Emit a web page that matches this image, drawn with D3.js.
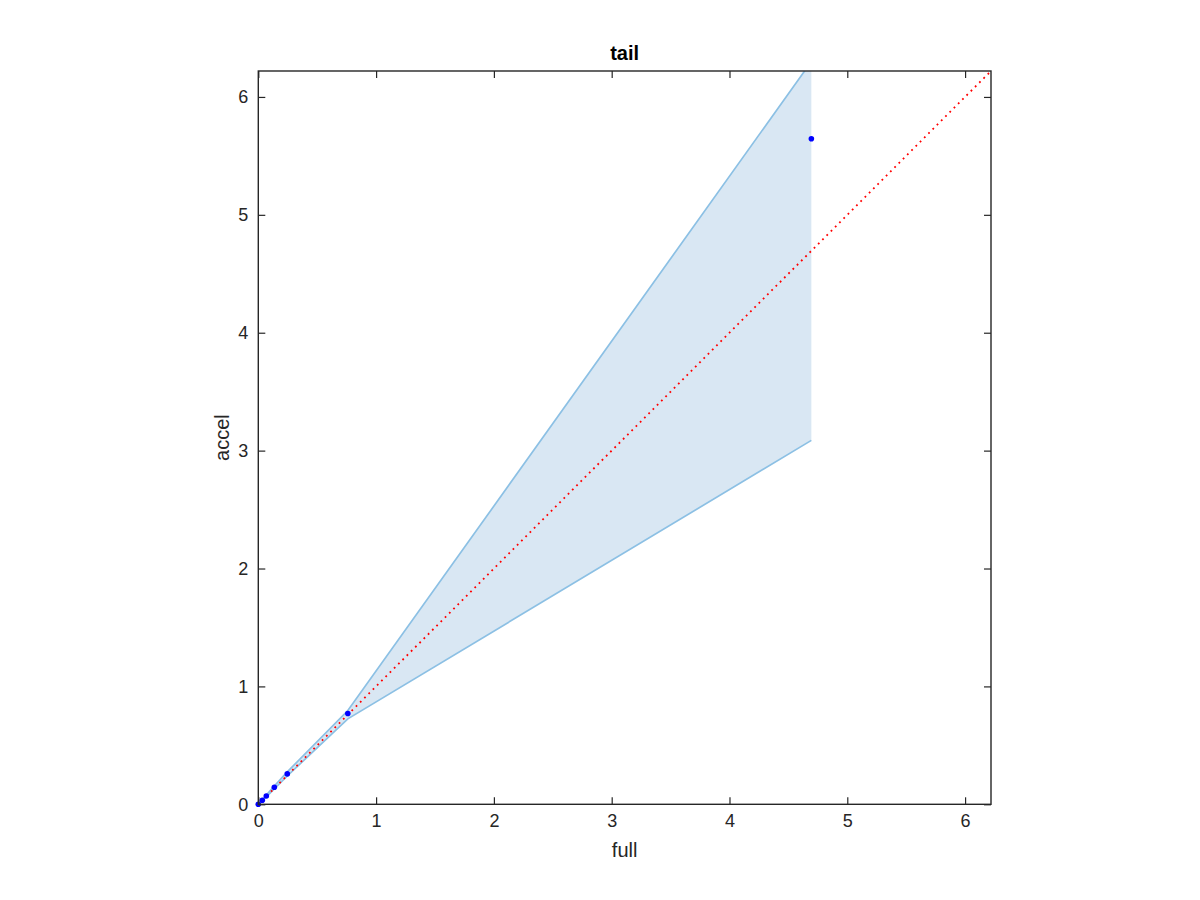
<!DOCTYPE html>
<html>
<head>
<meta charset="utf-8">
<script src="https://cdn.jsdelivr.net/npm/d3@7"></script>
<style>
  body { margin: 0; background: #fff; }
  svg { display: block; }
  svg text { font-family: "Liberation Sans", Arial, Helvetica, sans-serif; }
</style>
</head>
<body>
<svg id="chart" width="1200" height="900"></svg>
<script>
// Data
const fullVals  = [0, 0.034, 0.068, 0.136, 0.246, 0.76, 4.695];
const accelVals = [0, 0.034, 0.070, 0.144, 0.258, 0.77, 5.645];
const lowerVals = [0, 0.030, 0.062, 0.130, 0.240, 0.725, 3.087];
const upperVals = [0, 0.040, 0.078, 0.155, 0.275, 0.795, 6.30];
const xTicks = [0, 1, 2, 3, 4, 5, 6];
const yTicks = [0, 1, 2, 3, 4, 5, 6];
const axisMax = 6.22;
const titleText = "tail";
const xLabel = "full";
const yLabel = "accel";

const margin = { left: 258.3, top: 71, right: 991, bottom: 804.3 };
const svg = d3.select("#chart");
const x = d3.scaleLinear().domain([0, axisMax]).range([margin.left, margin.right]);
const y = d3.scaleLinear().domain([0, axisMax]).range([margin.bottom, margin.top]);

svg.append("defs").append("clipPath").attr("id", "clip")
  .append("rect")
  .attr("x", margin.left).attr("y", margin.top)
  .attr("width", margin.right - margin.left)
  .attr("height", margin.bottom - margin.top);

const band = fullVals.map((f, i) => ({ f, lo: lowerVals[i], hi: upperVals[i] }));
const g = svg.append("g").attr("clip-path", "url(#clip)");

// shaded band
g.append("path")
  .datum(band)
  .attr("d", d3.area().x(d => x(d.f)).y0(d => y(d.lo)).y1(d => y(d.hi)))
  .attr("fill", "#d9e7f3")
  .attr("stroke", "none");
// band edges (upper and lower)
g.append("path")
  .datum(band)
  .attr("d", d3.line().x(d => x(d.f)).y(d => y(d.hi)))
  .attr("fill", "none").attr("stroke", "#8cc0e4").attr("stroke-width", 1.7);
g.append("path")
  .datum(band)
  .attr("d", d3.line().x(d => x(d.f)).y(d => y(d.lo)))
  .attr("fill", "none").attr("stroke", "#8cc0e4").attr("stroke-width", 1.7);

// diagonal reference line
g.append("line")
  .attr("x1", x(0)).attr("y1", y(0))
  .attr("x2", x(axisMax)).attr("y2", y(axisMax))
  .attr("stroke", "#ff0000").attr("stroke-width", 1.8)
  .attr("stroke-dasharray", "1.8,4.2");

// points
svg.append("g").selectAll("circle")
  .data(fullVals.map((f, i) => [f, accelVals[i]]))
  .join("circle")
  .attr("cx", d => x(d[0])).attr("cy", d => y(d[1]))
  .attr("r", 2.8).attr("fill", "#0000ff");

// axes with inward ticks on all sides
const axisColor = "#262626";
const tickLen = 7;
function styleAxis(sel) {
  sel.attr("font-family", null).attr("font-size", null);
  sel.select(".domain").remove();
  sel.selectAll(".tick line").attr("stroke", axisColor).attr("stroke-width", 1.2);
  sel.selectAll(".tick text").attr("fill", axisColor)
    .style("font-size", "18px")
    .style("font-family", '"Liberation Sans", Arial, Helvetica, sans-serif');
}
svg.append("g").attr("transform", `translate(0,${margin.bottom})`)
  .call(d3.axisBottom(x).tickValues(xTicks).tickFormat(d3.format("d")).tickSizeInner(-tickLen).tickPadding(10))
  .call(styleAxis);
svg.append("g").attr("transform", `translate(0,${margin.top})`)
  .call(d3.axisTop(x).tickValues(xTicks).tickFormat("").tickSizeInner(-tickLen))
  .call(styleAxis);
svg.append("g").attr("transform", `translate(${margin.left},0)`)
  .call(d3.axisLeft(y).tickValues(yTicks).tickFormat(d3.format("d")).tickSizeInner(-tickLen).tickPadding(10))
  .call(styleAxis);
svg.append("g").attr("transform", `translate(${margin.right},0)`)
  .call(d3.axisRight(y).tickValues(yTicks).tickFormat("").tickSizeInner(-tickLen))
  .call(styleAxis);

// box
svg.append("rect")
  .attr("x", margin.left).attr("y", margin.top)
  .attr("width", margin.right - margin.left)
  .attr("height", margin.bottom - margin.top)
  .attr("fill", "none").attr("stroke", axisColor).attr("stroke-width", 1.4);

// title & labels
const cx = (margin.left + margin.right) / 2;
svg.append("text").attr("x", cx).attr("y", 60)
  .attr("text-anchor", "middle").attr("font-weight", "bold")
  .style("font-size", "20px").attr("fill", "#000").text(titleText);
svg.append("text").attr("x", cx).attr("y", 857)
  .attr("text-anchor", "middle").style("font-size", "20px").attr("fill", axisColor).text(xLabel);
svg.append("text")
  .attr("transform", `translate(229,${(margin.top + margin.bottom) / 2}) rotate(-90)`)
  .attr("text-anchor", "middle").style("font-size", "20px").attr("fill", axisColor).text(yLabel);
</script>
</body>
</html>
